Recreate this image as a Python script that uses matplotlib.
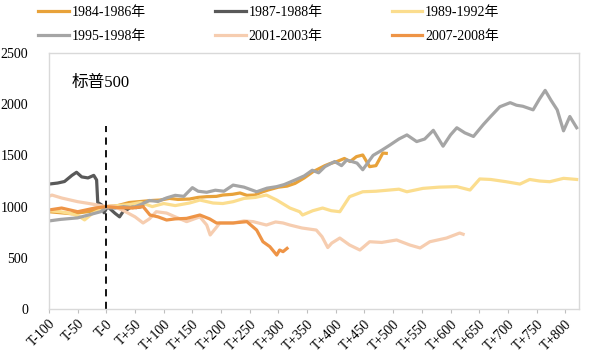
import matplotlib
matplotlib.use("Agg")
import matplotlib.pyplot as plt

plt.rcParams['font.family'] = ['Liberation Serif', 'Noto Sans CJK SC', 'DejaVu Sans']

# ---- data (day offset from T, index level) ----
x_1984 = [-100,-80,-60,-40,-20,0,20,40,60,80,94,110,125,145,160,175,192,203,220,233,245,259,270,282,
          300,315,329,345,360,381,390,401,415,425,436,447,459,470,482,488]
y_1984 = [950,940,930,945,960,1000,1010,1040,1050,1060,1064,1080,1070,1074,1090,1097,1100,1113,1120,1133,
          1110,1113,1140,1162,1190,1200,1227,1280,1340,1400,1420,1438,1470,1440,1488,1504,1390,1400,1523,1520]

x_1987 = [-100,-85,-73,-60,-52,-43,-32,-22,-17,-15,-8,-4,2,10,15,23,29,36,44,52,61,66]
y_1987 = [1220,1230,1245,1305,1335,1290,1280,1305,1260,1040,1015,940,1000,960,935,900,950,970,1000,990,1000,1030]

x_1989 = [-100,-80,-60,-46,-38,-25,-10,0,20,40,60,80,100,120,145,163,186,203,221,240,260,279,297,310,
          320,337,342,360,377,392,407,424,447,470,494,510,524,552,580,611,634,651,670,697,721,738,755,773,
          797,810,820]
y_1989 = [960,950,930,900,870,930,970,1000,1010,1020,1040,1000,1030,1010,1035,1064,1035,1030,1048,1080,1090,
          1113,1064,1020,986,950,918,960,986,960,950,1097,1145,1150,1162,1170,1145,1178,1190,1195,1162,1270,
          1265,1243,1220,1265,1250,1243,1276,1270,1265]

x_1995 = [-100,-80,-50,-30,-10,0,15,30,46,60,75,90,105,120,135,150,160,175,190,205,221,240,262,280,297,310,
          329,345,359,370,381,398,410,419,437,447,465,480,494,510,524,541,555,570,587,600,611,625,640,657,
          670,686,704,715,726,744,755,765,775,786,797,808,820]
y_1995 = [860,875,890,920,950,990,985,1000,990,1020,1060,1050,1085,1110,1100,1185,1150,1140,1160,1150,1210,
          1190,1145,1180,1195,1215,1260,1300,1355,1330,1390,1440,1400,1455,1425,1360,1500,1550,1600,1660,1700,
          1635,1660,1745,1590,1700,1770,1720,1685,1800,1880,1975,2015,1990,1980,1945,2050,2135,2040,1945,
          1740,1880,1770]

x_2001 = [-100,-95,-78,-50,-30,-15,0,12,30,50,64,75,87,105,120,140,163,175,181,198,221,240,256,279,295,308,
          320,341,366,376,386,393,407,424,442,459,480,506,529,547,564,593,616,622]
y_2001 = [1100,1113,1084,1048,1030,1015,1000,1005,960,900,840,880,950,937,900,853,900,820,723,840,840,860,
          853,820,850,840,820,791,771,706,600,644,693,625,576,657,650,674,625,596,657,693,742,730]

x_2007 = [-100,-78,-50,-20,0,20,46,64,76,90,105,120,140,163,180,192,221,245,262,273,285,297,302,308,315]
y_2007 = [967,986,950,986,1000,990,986,1000,918,900,869,880,885,918,880,840,840,853,771,657,609,527,576,560,592]

labels = ['1984-1986年', '1987-1988年', '1989-1992年', '1995-1998年', '2001-2003年', '2007-2008年']
colors = ['#E8A23A', '#595959', '#FBDD8E', '#A5A5A5', '#F6CDB0', '#EE9446']

xticks = list(range(-100, 801, 50))
xticklabels = ['T-100', 'T-50', 'T-0'] + ['T+%d' % v for v in range(50, 801, 50)]
yticks = [0, 500, 1000, 1500, 2000, 2500]

series = [(x_1984, y_1984), (x_1987, y_1987), (x_1989, y_1989),
          (x_1995, y_1995), (x_2001, y_2001), (x_2007, y_2007)]

fig = plt.figure(figsize=(5.94, 3.64), dpi=100)
ax = fig.add_axes([49/594, 1-309/364, (579-49)/594, (309-53)/364])

handles = []
for (xs, ys), lab, c in zip(series, labels, colors):
    h, = ax.plot(xs, ys, color=c, lw=2.3, label=lab, solid_joinstyle='round')
    handles.append(h)

ax.plot([0, 0], [0, 1790], color='black', lw=1.3, ls=(0, (4, 3)))
ax.text(-60, 2210, '标普500', fontsize=12, va='center', ha='left')

ax.set_xlim(-100, 824)
ax.set_ylim(0, 2500)
ax.set_xticks(xticks)
ax.set_xticklabels(xticklabels, rotation=45, ha='right', rotation_mode='anchor', fontsize=10)
ax.set_yticks(yticks)
ax.set_yticklabels([str(v) for v in yticks], fontsize=10)
ax.tick_params(axis='y', length=0, pad=15)
ax.tick_params(axis='x', length=3, color='#BFBFBF', pad=3)
for s in ax.spines.values():
    s.set_color('#D9D9D9')
    s.set_linewidth(1.0)

order = [0, 3, 1, 4, 2, 5]
fig.legend([handles[i] for i in order], [labels[i] for i in order], ncol=3,
           loc='upper left', bbox_to_anchor=(38/594, 1-6/364), frameon=False,
           fontsize=10, handlelength=2.2, handletextpad=0.2, columnspacing=5.0,
           labelspacing=0.8, borderpad=0, borderaxespad=0)

fig.savefig('out.png', dpi=100)
